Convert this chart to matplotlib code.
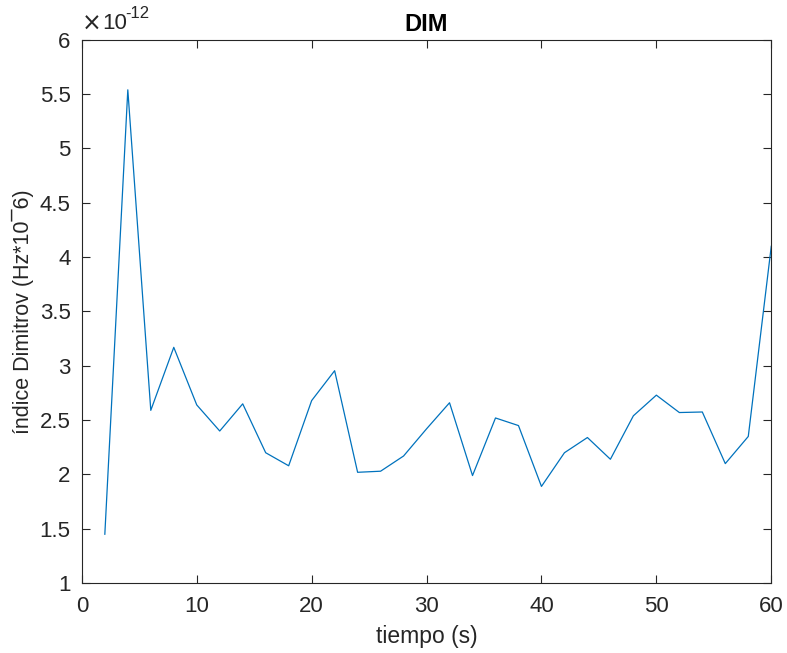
import matplotlib
matplotlib.use('Agg')
import matplotlib.pyplot as plt
import numpy as np

# time axis (s) and Dimitrov index values
tiempo = [2, 4, 6, 8, 10, 12, 14, 16, 18, 20, 22, 24, 26, 28, 30,
          32, 34, 36, 38, 40, 42, 44, 46, 48, 50, 52, 54, 56, 58, 60]
dim = [1.45, 5.54, 2.59, 3.17, 2.64, 2.40, 2.65, 2.20, 2.08, 2.68,
       2.955, 2.02, 2.03, 2.17, 2.42, 2.66, 1.99, 2.52, 2.45, 1.89,
       2.20, 2.34, 2.14, 2.54, 2.73, 2.57, 2.575, 2.10, 2.35, 4.10]
dim = np.array(dim) * 1e-12

plt.rcParams['font.family'] = ['Liberation Sans', 'DejaVu Sans']

fig = plt.figure(figsize=(7.87, 6.53), dpi=100)
ax = fig.add_axes([0.104, 0.107, 0.876, 0.832])

ax.plot(tiempo, dim, color='#0072BD', linewidth=0.9)

ax.set_xlim(0, 60)
ax.set_ylim(1e-12, 6e-12)
ax.set_xticks([0, 10, 20, 30, 40, 50, 60])
ax.set_yticks(np.arange(1, 6.01, 0.5) * 1e-12)
ax.set_yticklabels(['1', '1.5', '2', '2.5', '3', '3.5', '4', '4.5', '5', '5.5', '6'])
ax.tick_params(direction='in', length=6, width=0.8, labelsize=16,
               colors='#262626', top=True, right=True)
ax.tick_params(axis='y', pad=8)
ax.tick_params(axis='x', pad=9)
for s in ax.spines.values():
    s.set_color('#262626')
    s.set_linewidth(0.8)

# exponent marker above the y axis
ax.text(0.0, 1.008, '×', transform=ax.transAxes, family='DejaVu Sans',
        fontsize=17, color='#262626', ha='left', va='bottom')
ax.text(0.029, 1.01, '10', transform=ax.transAxes,
        fontsize=16, color='#262626', ha='left', va='bottom')
ax.text(0.063, 1.035, '-12', transform=ax.transAxes,
        fontsize=12, color='#262626', ha='left', va='bottom')

ax.set_title('DIM', fontsize=17, fontweight='bold', pad=6)
ax.set_xlabel('tiempo (s)', fontsize=16.5, color='#262626', labelpad=6)
ax.set_ylabel('índice Dimitrov (Hz*10¯6)', fontsize=15.5, color='#262626', labelpad=4)

fig.savefig('out.png', dpi=100)
